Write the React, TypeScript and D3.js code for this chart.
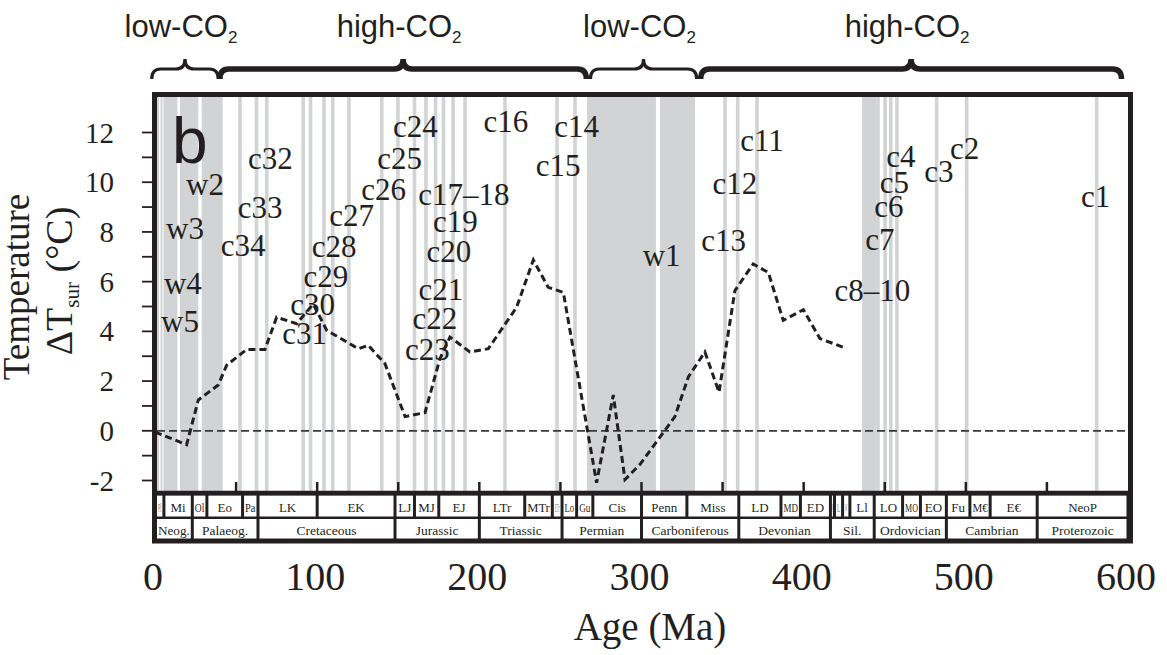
import React from "react";
import * as d3 from "d3";

// temperature anomaly curve (Ma, °C)
const lineAges = [0, 19.5, 26.7, 39, 44.2, 56.5, 67.8, 75, 87.4, 97.6, 105.9, 125.4, 131.5, 141.8, 154.2, 166.5, 175.7, 181.9, 194.2, 205.5, 223, 233.3, 242.5, 251.8, 272.3, 282.6, 289.8, 299, 320.6, 328.9, 339.1, 347.8, 357.6, 368.9, 378.2, 387.4, 399.8, 410, 426.5];
const lineTemps = [-0.05, -0.56, 1.24, 1.84, 2.64, 3.27, 3.27, 4.57, 4.31, 5.1, 4.04, 3.3, 3.44, 2.7, 0.57, 0.73, 2.9, 3.77, 3.17, 3.3, 4.97, 6.87, 5.77, 5.57, -2.09, 1.44, -1.96, -1.36, 0.57, 2.17, 3.17, 1.55, 5.64, 6.71, 6.37, 4.44, 4.87, 3.71, 3.31];

// shaded intervals (Ma)
const wideBands = [[1.2, 2.5], [3.4, 4.6], [5.2, 13.8], [15.4, 26.7], [28.8, 41.7], [266.4, 308.9], [311.4, 333], [436, 444.6]];
const thinLines = [52.4, 62.6, 68.9, 91.4, 95.9, 104.2, 109.6, 119.6, 139.8, 149.8, 160, 167.1, 173, 177.9, 183.8, 191.2, 215.8, 247.9, 259, 351.5, 359.3, 371.2, 445.8, 450.2, 453.7, 457.5, 482, 500.5, 580.7];

// site labels
const siteNames = ["w2", "w3", "w4", "w5", "c32", "c33", "c34", "c24", "c25", "c26", "c27", "c28", "c29", "c30", "c31", "c16", "c14", "c15", "c17–18", "c19", "c20", "c21", "c22", "c23", "w1", "c11", "c12", "c13", "c4", "c5", "c6", "c7", "c8–10", "c3", "c2", "c1"];
const siteAges = [30.8, 18.5, 17.2, 15.4, 71.2, 64.8, 54.4, 160.6, 150.8, 141, 121.2, 110.4, 105.4, 97.2, 92.3, 216.3, 260, 248.6, 190.5, 185.3, 181.2, 176.3, 172.6, 168, 312.4, 374.3, 357.6, 350.6, 460, 456, 452.6, 447, 442.4, 483.4, 499.2, 580];
const siteTemps = [9.92, 8.15, 5.93, 4.38, 10.96, 9.0, 7.47, 12.24, 10.97, 9.7, 8.68, 7.4, 6.2, 5.1, 3.93, 12.43, 12.24, 10.69, 9.49, 8.4, 7.2, 5.7, 4.5, 3.28, 7.07, 11.69, 9.96, 7.66, 11.03, 10.0, 9.02, 7.68, 5.66, 10.42, 11.36, 9.41];

// geological time scale
const epochBounds = [0, 5.5, 23, 32, 54, 63.5, 100, 148, 160, 175, 200, 228, 245, 251, 260, 270, 300, 328, 360, 386, 398, 416.5, 419, 424, 428.5, 443.5, 461, 472, 488, 502.5, 515, 544, 600];
const epochNames = ["Pl", "Mi", "Ol", "Eo", "Pa", "LK", "EK", "LJ", "MJ", "EJ", "LTr", "MTr", "ETr", "Lo", "Gu", "Cis", "Penn", "Miss", "LD", "MD", "ED", "P", "L", "W", "Ll", "LO", "MO", "EO", "Fu", "M€", "E€", "NeoP"];
const periodBounds = [0, 23, 63.5, 148, 200, 251, 300, 360, 416.5, 443.5, 488, 544, 600];
const periodNames = ["Neog.", "Palaeog.", "Cretaceous", "Jurassic", "Triassic", "Permian", "Carboniferous", "Devonian", "Sil.", "Ordovician", "Cambrian", "Proterozoic"];

// CO2 regimes along the top
const regimeNames = ["low-CO", "high-CO", "low-CO", "high-CO"];
const regimeStart = [-2, 40, 268.5, 336.5];
const regimeEnd = [39, 266, 334, 596];

const xTicks = [0, 100, 200, 300, 400, 500, 600];
const yTickLabels = [-2, 0, 2, 4, 6, 8, 10, 12];

const INK = "#231f20";
const GREY = "#d1d3d4";
const SERIF = "'Liberation Serif', 'Times New Roman', serif";
const SANS = "'Liberation Sans', Arial, sans-serif";

let measureCtx: CanvasRenderingContext2D | null = null;
const textWidth = (t: string, font: string) => {
  if (!measureCtx) measureCtx = document.createElement("canvas").getContext("2d");
  if (!measureCtx) return t.length * 7;
  measureCtx.font = font;
  return measureCtx.measureText(t).width;
};

const App = () => {
  const W = 1167;
  const H = 655;
  const x = d3.scaleLinear().domain([0, 600]).range([155, 1128]);
  const y = d3.scaleLinear().domain([-2, 12]).range([480.5, 132.5]);

  const left = 157;
  const right = 1128;
  const top = 97;
  const bottom = 491;

  const pts = lineAges.map((a, i) => [a, lineTemps[i]] as [number, number]);
  const line = d3
    .line<[number, number]>()
    .x((d) => x(d[0]))
    .y((d) => y(d[1]));

  // curly brace path between two ages
  const brace = (a0: number, a1: number) => {
    const x0 = x(a0);
    const x1 = x(a1);
    const xm = (x0 + x1) / 2;
    const yTip = 59;
    const yArm = 69;
    const yEnd = 79;
    const r = 9;
    return `M${x0},${yEnd} Q${x0},${yArm} ${x0 + r},${yArm} L${xm - r},${yArm} Q${xm},${yArm} ${xm},${yTip} Q${xm},${yArm} ${xm + r},${yArm} L${x1 - r},${yArm} Q${x1},${yArm} ${x1},${yEnd}`;
  };

  const scaleRow = (bounds: number[], names: string[], y0: number, y1: number, fs: number) =>
    names.map((n, i) => {
      const xa = Math.max(x(bounds[i]) + 1.5, left);
      const xb = x(bounds[i + 1]) - 1.5;
      const cw = xb - xa;
      const tw = textWidth(n, `${fs}px ${SERIF}`);
      const squeeze = tw > cw - 2;
      return (
        <g key={n + i}>
          <rect x={xa} y={y0} width={cw} height={y1 - y0} fill="#fff" />
          <text
            x={(xa + xb) / 2}
            y={(y0 + y1) / 2 + 1}
            textAnchor="middle"
            dominantBaseline="central"
            fontSize={fs}
            fontFamily={SERIF}
            fill={INK}
            opacity={cw < 10 ? 0.6 : 1}
            {...(squeeze ? { textLength: Math.max(cw - 2, 1), lengthAdjust: "spacingAndGlyphs" } : {})}
          >
            {n}
          </text>
        </g>
      );
    });

  return (
    <svg width={W} height={H} style={{ position: "absolute", left: 0, top: 0, background: "#fff" }}>
      <defs>
        <clipPath id="plotClip">
          <rect x={left} y={top} width={right - left} height={bottom - top} />
        </clipPath>
      </defs>

      {/* regime braces */}
      {regimeNames.map((n, i) => {
        const xm = (x(regimeStart[i]) + x(regimeEnd[i])) / 2;
        const big = regimeEnd[i] - regimeStart[i] > 100;
        return (
          <g key={"reg" + i}>
            <text x={xm - 4} y={37} textAnchor="middle" fontFamily={SANS} fontSize={31} fill={INK}>
              {n}
              <tspan fontSize={17} dy={6}>2</tspan>
            </text>
            <path d={brace(regimeStart[i], regimeEnd[i])} fill="none" stroke={INK} strokeWidth={big ? 5.5 : 3.2} strokeLinecap="butt" />
          </g>
        );
      })}

      {/* shading */}
      <g clipPath="url(#plotClip)">
        {wideBands.map((b, i) => (
          <rect key={"wb" + i} x={x(b[0])} y={top} width={x(b[1]) - x(b[0])} height={bottom - top} fill={GREY} />
        ))}
        {thinLines.map((a, i) => (
          <rect key={"tl" + i} x={x(a) - 1.8} y={top} width={3.6} height={bottom - top} fill={GREY} />
        ))}

        {/* zero line */}
        <line x1={left} x2={right} y1={y(0)} y2={y(0)} stroke="#3a3a3a" strokeWidth={1.7} strokeDasharray="8,4" />

        {/* data */}
        <path d={line(pts) || ""} fill="none" stroke={INK} strokeWidth={3} strokeDasharray="7,4" strokeLinejoin="miter" />

        {/* x ticks (inward) */}
        {d3.range(50, 600, 50).map((t) => (
          <line key={"xt" + t} x1={x(t)} x2={x(t)} y1={bottom} y2={bottom - 9} stroke={INK} strokeWidth={2.5} />
        ))}
      </g>

      {/* site labels */}
      {siteNames.map((n, i) => (
        <text
          key={"s" + i}
          x={x(siteAges[i])}
          y={y(siteTemps[i])}
          textAnchor="middle"
          dominantBaseline="central"
          fontFamily={SERIF}
          fontSize={31}
          fill={INK}
        >
          {n}
        </text>
      ))}

      <text x={172} y={163} fontFamily={SANS} fontSize={64} fill={INK}>
        b
      </text>

      {/* time scale */}
      <rect x={left - 2} y={493} width={right - left + 4} height={48} fill={INK} />
      {scaleRow(epochBounds, epochNames, 495.5, 516.5, 13)}
      {scaleRow(periodBounds, periodNames, 519, 539, 13.5)}

      {/* frame */}
      <rect x={154.5} y={94.5} width={976} height={446.5} fill="none" stroke={INK} strokeWidth={5} />
      <line x1={154.5} x2={1130.5} y1={493} y2={493} stroke={INK} strokeWidth={4.5} />

      {/* y axis ticks and labels */}
      {d3.range(-2, 13, 1).map((t) => (
        <line key={"yt" + t} x1={142} x2={152} y1={y(t)} y2={y(t)} stroke={INK} strokeWidth={1.8} />
      ))}
      {yTickLabels.map((t) => (
        <text key={"yl" + t} x={114} y={y(t)} textAnchor="end" dominantBaseline="central" fontFamily={SERIF} fontSize={29} fill={INK}>
          {t}
        </text>
      ))}

      {/* x labels */}
      {xTicks.map((t) => (
        <text key={"xl" + t} x={x(t) - 2} y={590} textAnchor="middle" fontFamily={SERIF} fontSize={40} fill={INK}>
          {t}
        </text>
      ))}
      <text x={650} y={640} textAnchor="middle" fontFamily={SERIF} fontSize={39} fill={INK}>
        Age (Ma)
      </text>

      {/* y title */}
      <text transform="translate(29,287) rotate(-90)" textAnchor="middle" fontFamily={SERIF} fontSize={37} fill={INK}>
        Temperature
      </text>
      <text transform="translate(72,281) rotate(-90)" textAnchor="middle" fontFamily={SERIF} fontSize={38} fill={INK}>
        ΔT
        <tspan fontSize={21} dy={7}>sur</tspan>
        <tspan dy={-7}> (°C)</tspan>
      </text>
    </svg>
  );
};

export default App;
